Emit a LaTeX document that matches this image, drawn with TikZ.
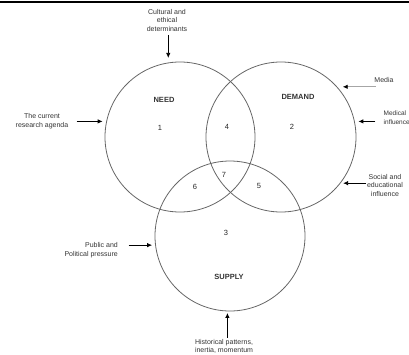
\documentclass[tikz,border=0pt]{standalone}
\usepackage{fontspec}
\setmainfont{Liberation Sans}
\usetikzlibrary{positioning,arrows.meta}

\begin{document}
\begin{tikzpicture}[x=1pt,y=-1pt,
    ring/.style={circle,draw=black!60,line width=0.8pt,minimum size=150pt,inner sep=0pt,outer sep=0pt},
    lbl/.style={font=\fontsize{7}{8.5}\selectfont,text=black!80,align=center,inner sep=0pt},
    title/.style={font=\fontsize{7.5}{9}\selectfont\bfseries,text=black!80},
    num/.style={font=\fontsize{7.5}{9}\selectfont,text=black!85},
    push/.style={-{Latex[length=5pt,width=4.5pt,color=black]},line width=0.8pt}]
    \useasboundingbox (0,0) rectangle (409,354);
    % rule at the top
    \draw[line width=1.2pt] (0,2) -- (409,2);
    % the three circles
    \node[ring] (need) at (180,137) {};
    \node[ring] (demand) at (281,137) {};
    \node[ring] (supply) at (230,236) {};
    % names
    \node[title] (needlbl) at (164,100) {NEED};
    \node[title] (demandlbl) at (298,97) {DEMAND};
    \node[title] (supplylbl) at (229,277) {SUPPLY};
    % regions
    \node[num] (r1) at (160,128) {1};
    \node[num] (r2) at (292,127) {2};
    \node[num] (r3) at (226,233) {3};
    \node[num] (r4) at (227,127) {4};
    \node[num] (r5) at (259,186) {5};
    \node[num] (r6) at (195,187) {6};
    \node[num] (r7) at (224,175) {7};
    % outside influences
    \node[lbl] (cultural) at (167,20) {Cultural and\\ethical\\determinants};
    \coordinate (culturaltail) at ([yshift=28pt]need.99);
    \draw[push,shorten >=5pt] (culturaltail) -- (need.99);
    \node[lbl] (research) at (42,121) {The current\\research agenda};
    \coordinate (researchtail) at ([xshift=-30pt]need.168);
    \draw[push,shorten >=4pt] (researchtail) -- (need.168);
    \node[lbl] (media) at (384,80) {Media};
    \coordinate (mediatail) at ([xshift=39pt]demand.42.8);
    \draw[push,draw=black!35,shorten >=6pt] (mediatail) -- (demand.42.8);
    \node[lbl,font=\fontsize{6.5}{8.5}\selectfont,align=left,anchor=west] (medical) at (383.5,117.5) {Medical\\influence};
    \coordinate (medicaltail) at ([xshift=21pt]demand.12.3);
    \draw[push,shorten >=4pt] (medicaltail) -- (demand.12.3);
    \node[lbl] (social) at (385,185) {Social and\\educational\\influence};
    \coordinate (socialtail) at ([xshift=26pt]demand.-38.8);
    \draw[push,shorten >=3pt] (socialtail) -- (demand.-38.8);
    \node[lbl,align=right,anchor=east] (public) at (118,250) {Public and\\Political pressure};
    \coordinate (publictail) at ([xshift=-27pt]supply.187);
    \draw[push,shorten >=3.5pt] (publictail) -- (supply.187);
    \node[lbl,anchor=north] (historical) at (224,339) {Historical patterns,\\inertia, momentum};
    \coordinate (historicaltail) at ([yshift=-27pt]supply.268);
    \draw[push,shorten >=2pt] (historicaltail) -- (supply.268);
\end{tikzpicture}
\end{document}
